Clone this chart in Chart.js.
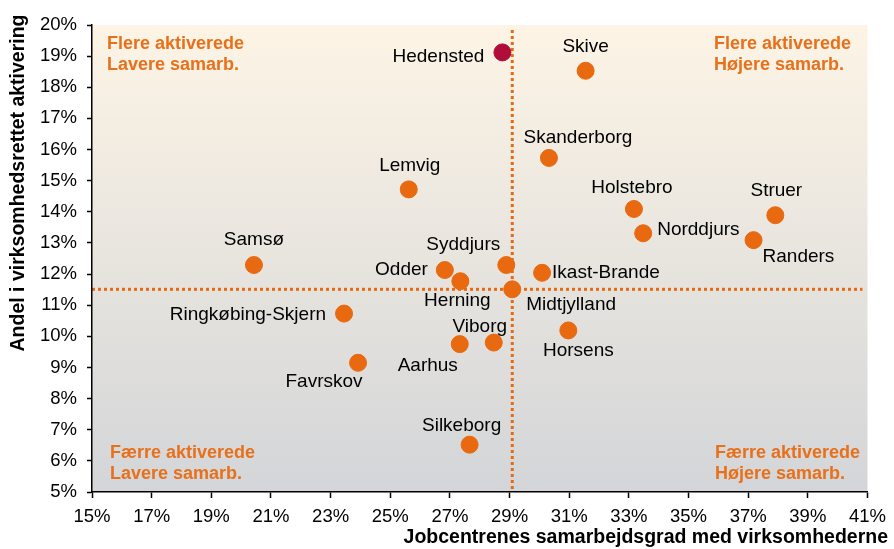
<!DOCTYPE html>
<html>
<head>
<meta charset="utf-8">
<script src="https://cdn.jsdelivr.net/npm/chart.js@4.4.0/dist/chart.umd.min.js"></script>
<style>
html, body { margin: 0; padding: 0; background: #fff; }
#wrap { width: 894px; height: 549px; }
</style>
</head>
<body>
<div id="wrap"><canvas id="chart"></canvas></div>
<script>
// Jobcentre i Midtjylland: samarbejdsgrad (x) mod andel virksomhedsrettet aktivering (y), i procent
const kommuner = ['Hedensted', 'Skive', 'Skanderborg', 'Lemvig', 'Holstebro', 'Struer', 'Norddjurs',
    'Randers', 'Samsø', 'Syddjurs', 'Odder', 'Ikast-Brande', 'Herning', 'Midtjylland',
    'Ringkøbing-Skjern', 'Horsens', 'Aarhus', 'Viborg', 'Favrskov', 'Silkeborg'];
const samarbejdsgrad = [28.76, 31.55, 30.32, 25.62, 33.17, 37.91, 33.48,
    37.18, 20.43, 28.89, 26.83, 30.09, 27.35, 29.09,
    23.45, 30.97, 27.33, 28.47, 23.92, 27.66];
const aktivering = [19.12, 18.53, 15.73, 14.72, 14.09, 13.89, 13.31,
    13.09, 12.29, 12.29, 12.13, 12.04, 11.77, 11.51,
    10.73, 10.19, 9.75, 9.8, 9.15, 6.52];

// gennemsnit for regionen (de prikkede linjer)
const snitSamarbejde = 29.09;
const snitAktivering = 11.51;

const xTicks = { min: 15, max: 41, step: 2 };
const yTicks = { min: 5, max: 20, step: 1 };

const xTitel = 'Jobcentrenes samarbejdsgrad med virksomhederne';
const yTitel = 'Andel i virksomhedsrettet aktivering';
const kvadranter = [
    ['Flere aktiverede', 'Lavere samarb.'],
    ['Flere aktiverede', 'Højere samarb.'],
    ['Færre aktiverede', 'Lavere samarb.'],
    ['Færre aktiverede', 'Højere samarb.']
];

// placering af navne i forhold til prikken: [dx, dy, align]
const labelOffsets = {
    'Hedensted': [-18, 4, 'right'],
    'Skive': [0, -24, 'center'],
    'Skanderborg': [29, -20, 'center'],
    'Lemvig': [1, -24, 'center'],
    'Holstebro': [-2, -21, 'center'],
    'Struer': [1, -24, 'center'],
    'Norddjurs': [14, -4, 'left'],
    'Randers': [9, 17, 'left'],
    'Samsø': [0, -25, 'center'],
    'Syddjurs': [-43, -20, 'center'],
    'Odder': [-17, 0, 'right'],
    'Ikast-Brande': [10, 0, 'left'],
    'Herning': [-3, 20, 'center'],
    'Midtjylland': [14, 15, 'left'],
    'Ringkøbing-Skjern': [-18, 1, 'right'],
    'Horsens': [10, 20, 'center'],
    'Aarhus': [-32, 22, 'center'],
    'Viborg': [-14, -16, 'center'],
    'Favrskov': [-34, 19, 'center'],
    'Silkeborg': [-8, -19, 'center']
};

const ORANGE = '#E8690F';
const FONT = 'Arial, "Liberation Sans", sans-serif';

const points = kommuner.map((k, i) => ({ x: samarbejdsgrad[i], y: aktivering[i] }));
const colors = kommuner.map(k => k === 'Hedensted' ? '#B00D3A' : ORANGE);

const baggrund = {
    id: 'baggrund',
    beforeDraw(chart) {
        const { ctx, chartArea: a, scales } = chart;
        ctx.save();
        const g = ctx.createLinearGradient(0, a.top, 0, a.bottom);
        g.addColorStop(0, '#FDF4E5');
        g.addColorStop(1, '#D3D5D8');
        ctx.fillStyle = g;
        ctx.fillRect(a.left, a.top, a.right - a.left, a.bottom - a.top);

        // prikkede gennemsnitslinjer
        ctx.strokeStyle = ORANGE;
        ctx.lineWidth = 3;
        ctx.setLineDash([3, 3]);
        const vx = scales.x.getPixelForValue(snitSamarbejde);
        const hy = scales.y.getPixelForValue(snitAktivering);
        ctx.beginPath();
        ctx.moveTo(vx, a.top + 5);
        ctx.lineTo(vx, a.bottom);
        ctx.stroke();
        ctx.beginPath();
        ctx.moveTo(a.left, hy);
        ctx.lineTo(a.right - 5, hy);
        ctx.stroke();
        ctx.restore();
    }
};

const tekster = {
    id: 'tekster',
    afterDatasetsDraw(chart) {
        const { ctx, chartArea: a } = chart;
        const meta = chart.getDatasetMeta(0);
        ctx.save();
        ctx.font = '19px ' + FONT;
        ctx.fillStyle = '#000';
        ctx.textBaseline = 'middle';
        meta.data.forEach((el, i) => {
            const off = labelOffsets[kommuner[i]] || [0, -22, 'center'];
            ctx.textAlign = off[2];
            ctx.fillText(kommuner[i], el.x + off[0], el.y + off[1]);
        });

        // kvadrant-tekster
        ctx.font = 'bold 18px ' + FONT;
        ctx.fillStyle = '#E8701A';
        ctx.textAlign = 'left';
        const pos = [
            [a.left + 15, a.top + 19],
            [a.left + 622, a.top + 19],
            [a.left + 18, a.bottom - 39],
            [a.left + 623, a.bottom - 39]
        ];
        kvadranter.forEach((linjer, i) => {
            linjer.forEach((t, j) => ctx.fillText(t, pos[i][0], pos[i][1] + j * 21));
        });

        // aksetitler
        ctx.font = 'bold 19.5px ' + FONT;
        ctx.fillStyle = '#000';
        ctx.textAlign = 'right';
        ctx.fillText(xTitel, 888, 538);
        ctx.save();
        ctx.translate(19, 183);
        ctx.rotate(-Math.PI / 2);
        ctx.textAlign = 'center';
        ctx.fillText(yTitel, 0, 0);
        ctx.restore();
        ctx.restore();
    }
};

new Chart(document.getElementById('chart'), {
    type: 'scatter',
    data: {
        datasets: [{
            data: points,
            pointBackgroundColor: colors,
            pointBorderColor: colors,
            pointRadius: 8.5,
            pointHoverRadius: 8.5
        }]
    },
    options: {
        responsive: true,
        maintainAspectRatio: false,
        animation: false,
        layout: { padding: { top: 25, right: 26, left: 0, bottom: 0 } },
        plugins: {
            legend: { display: false },
            tooltip: { enabled: false }
        },
        scales: {
            x: {
                type: 'linear',
                min: xTicks.min,
                max: xTicks.max,
                afterFit: s => { s.height = 57; },
                ticks: {
                    stepSize: xTicks.step,
                    callback: v => v + '%',
                    color: '#000',
                    font: { family: FONT, size: 18.5 },
                    padding: 8,
                    maxRotation: 0
                },
                grid: { drawOnChartArea: false, drawTicks: true, tickLength: 6, tickColor: '#000', tickWidth: 1.5 },
                border: { color: '#000', width: 1.5 }
            },
            y: {
                min: yTicks.min,
                max: yTicks.max,
                afterFit: s => { s.width = 92; },
                ticks: {
                    stepSize: yTicks.step,
                    callback: v => v + '%',
                    color: '#000',
                    font: { family: FONT, size: 18.5 },
                    padding: 10
                },
                grid: { drawOnChartArea: false, drawTicks: true, tickLength: 5, tickColor: '#000', tickWidth: 1.5 },
                border: { color: '#000', width: 1.5 }
            }
        }
    },
    plugins: [baggrund, tekster]
});
</script>
</body>
</html>
